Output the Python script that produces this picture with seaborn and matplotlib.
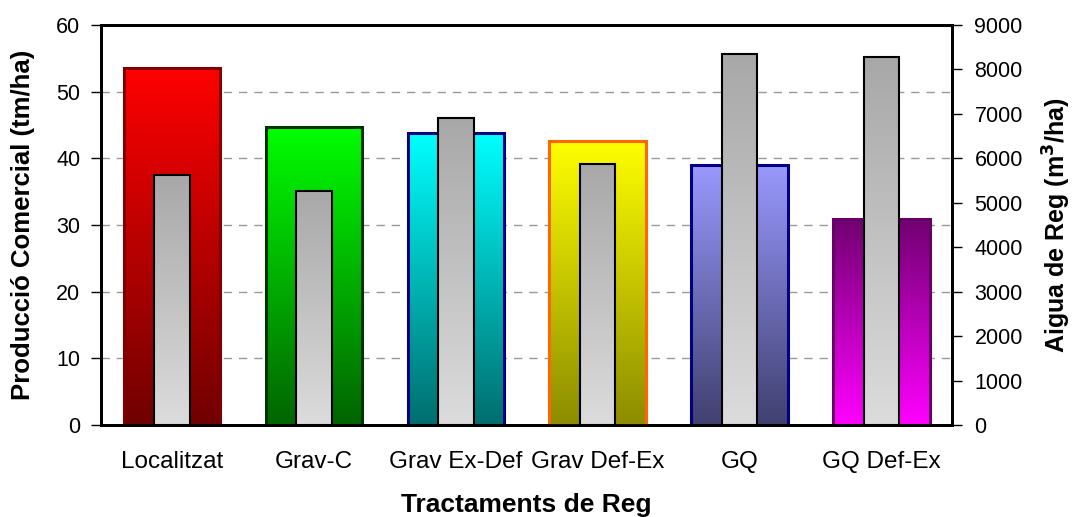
import numpy as np
import pandas as pd
import seaborn as sns
import matplotlib.pyplot as plt
from matplotlib.colors import to_rgb

# dades
tractaments = ["Localitzat", "Grav-C", "Grav Ex-Def", "Grav Def-Ex", "GQ", "GQ Def-Ex"]
produccio = [53.5, 44.7, 43.8, 42.6, 39.0, 30.9]      # tm/ha
aigua = [5625, 5270, 6915, 5875, 8350, 8265]          # m3/ha

# colors (dalt, baix, vora)
col_dalt = ["#ff0000", "#00ff00", "#00ffff", "#ffff00", "#9999ff", "#700070"]
col_baix = ["#700000", "#006400", "#006e6e", "#8c8c00", "#404070", "#ff00ff"]
col_vora = ["#800000", "#003300", "#000080", "#ff6600", "#000080", "#660066"]

sns.set_style("white")
plt.rcParams['font.family'] = ['Liberation Sans', 'DejaVu Sans']
plt.rcParams['text.color'] = 'black'
plt.rcParams['axes.labelcolor'] = 'black'
plt.rcParams['xtick.color'] = 'black'
plt.rcParams['ytick.color'] = 'black'

df = pd.DataFrame({"tractament": tractaments, "produccio": produccio, "aigua": aigua})

fig = plt.figure(figsize=(10.76, 5.17), dpi=100)
ax = fig.add_axes([0.094, 0.178, 0.791, 0.774])
ax2 = ax.twinx()


def gradient(axis, patch, top, bottom, z):
    x0, y0 = patch.get_x(), patch.get_y()
    w, h = patch.get_width(), patch.get_height()
    t = np.linspace(0, 1, 256)[:, None]
    img = (1 - t) * np.array(to_rgb(top)) + t * np.array(to_rgb(bottom))
    im = axis.imshow(img[:, None, :], extent=[x0, x0 + w, y0, y0 + h],
                     aspect='auto', origin='upper', zorder=z, interpolation='bilinear')
    im.set_clip_path(patch)


sns.barplot(data=df, x="tractament", y="produccio", ax=ax, width=0.68,
            color="white", saturation=1, zorder=2)
for i, p in enumerate(ax.patches):
    p.set_facecolor("none")
    p.set_edgecolor(col_vora[i])
    p.set_linewidth(2.2)
    p.set_zorder(3)
    gradient(ax, p, col_dalt[i], col_baix[i], 2)

sns.barplot(data=df, x="tractament", y="aigua", ax=ax2, width=0.25,
            color="white", saturation=1, zorder=2)
for p in ax2.patches:
    p.set_facecolor("none")
    p.set_edgecolor("black")
    p.set_linewidth(1.5)
    p.set_zorder(3)
    gradient(ax2, p, "#a8a8a8", "#dcdcdc", 2)

ax.set_xlim(-0.5, 5.5)
ax.set_ylim(0, 60)
ax2.set_ylim(0, 9000)
ax.set_yticks(np.arange(0, 61, 10))
ax2.set_yticks(np.arange(0, 9001, 1000))

# graella
for v in range(10, 60, 10):
    ax.axhline(v, color="#999999", lw=1, ls=(0, (6, 5)), zorder=1)

# ticks eix x entre categories
ax.set_xticks(np.arange(len(tractaments)))
ax.set_xticklabels(tractaments, fontsize=17.5)
ax.tick_params(axis='x', length=0, pad=19)
ax.set_xticks(np.arange(-0.5, 6, 1), minor=True)
ax.tick_params(axis='x', which='minor', length=6, width=1, direction='out', color='black')
ax.tick_params(axis='y', length=7, width=1, direction='out', labelsize=15.5, color='black', pad=8)
ax2.tick_params(axis='y', length=7, width=1, direction='out', labelsize=15.5, color='black', pad=9)
ax.tick_params(axis='y', left=True)

for a in (ax, ax2):
    for s in a.spines.values():
        s.set_color("black")
        s.set_linewidth(2)
        s.set_visible(True)

ax.set_xlabel("Tractaments de Reg", fontsize=19, fontweight='bold')
ax.set_ylabel("Producció Comercial (tm/ha)", fontsize=18.5, fontweight='bold')
ax2.set_ylabel("Aigua de Reg (m$^{\\mathbf{3}}$/ha)", fontsize=18, fontweight='bold')
ax.xaxis.set_label_coords(0.5, -0.17)
ax.yaxis.set_label_coords(-0.078, 0.5)
ax2.yaxis.set_label_coords(1.104, 0.5)

fig.savefig("out.png", dpi=100)
